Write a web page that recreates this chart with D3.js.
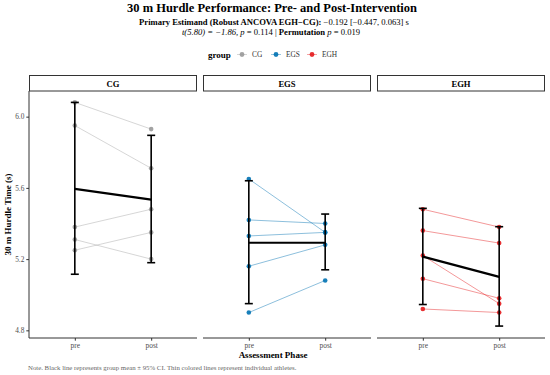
<!DOCTYPE html>
<html>
<head>
<meta charset="utf-8">
<script src="https://cdn.jsdelivr.net/npm/d3@7"></script>
<style>
  body { margin: 0; background: #fff; }
  text { font-family: 'Liberation Serif', 'DejaVu Serif', serif; }
</style>
</head>
<body>
<svg id="chart"></svg>
<script>
let d3 = window.d3

// data
let groups = ['CG', 'EGS', 'EGH']
let phases = ['pre', 'post']
let cgPre = [6.08, 5.95, 5.38, 5.31, 5.25]
let cgPost = [5.93, 5.71, 5.48, 5.20, 5.35]
let egsPre = [5.65, 5.42, 5.33, 5.16, 4.90]
let egsPost = [5.35, 5.40, 5.35, 5.28, 5.08]
let eghPre = [5.48, 5.36, 5.22, 5.09, 4.92]
let eghPost = [5.38, 5.29, 4.95, 4.98, 4.90]
// 95% CI bounds [pre, post]
let ciLow = { CG: [5.115, 5.18], EGS: [4.95, 5.14], EGH: [4.945, 4.824] }
let ciHigh = { CG: [6.08, 5.895], EGS: [5.64, 5.453], EGH: [5.485, 5.382] }
let yTicks = [4.8, 5.2, 5.6, 6.0]
let colors = { CG: '#999999', EGS: '#0072B2', EGH: '#E41A1C' }

let series = {
  CG: [cgPre, cgPost],
  EGS: [egsPre, egsPost],
  EGH: [eghPre, eghPost]
}

let width = 550
let height = 375
let panel = { top: 91, bottom: 338, width: 168, gap: 6, left: 29 }

let svg = d3.select('#chart')
  .attr('width', width)
  .attr('height', height)

let y = d3.scaleLinear()
  .domain([4.757, 6.144])
  .range([panel.bottom, panel.top])

let x = d3.scalePoint()
  .domain(phases)
  .range([0, panel.width])
  .padding(0.6)

// titles
svg.append('text')
  .attr('x', 272).attr('y', 11.5)
  .attr('text-anchor', 'middle')
  .style('font-size', '12.5px').style('font-weight', 'bold')
  .text('30 m Hurdle Performance: Pre- and Post-Intervention')

let sub1 = svg.append('text')
  .attr('x', 274).attr('y', 24.5)
  .attr('text-anchor', 'middle')
  .style('font-size', '8.6px')
sub1.append('tspan').style('font-weight', 'bold').text('Primary Estimand (Robust ANCOVA EGH\u2212CG):')
sub1.append('tspan').text(' \u22120.192 [\u22120.447, 0.063] s')

let sub2 = svg.append('text')
  .attr('x', 271).attr('y', 34.5)
  .attr('text-anchor', 'middle')
  .style('font-size', '8.6px')
sub2.append('tspan').style('font-style', 'italic').text('t(5.80) = \u22121.86, ')
sub2.append('tspan').style('font-style', 'italic').text('p')
sub2.append('tspan').text(' = 0.114 | ')
sub2.append('tspan').style('font-weight', 'bold').text('Permutation')
sub2.append('tspan').text('  ')
sub2.append('tspan').style('font-style', 'italic').text('p')
sub2.append('tspan').text(' = 0.019')

// legend
let legend = svg.append('g').attr('transform', 'translate(0,54.5)')
legend.append('text')
  .attr('x', 208).attr('y', 3)
  .style('font-size', '9px').style('font-weight', 'bold')
  .text('group')
let legendX = [242, 276, 312]
groups.forEach(function (g, i) {
  let item = legend.append('g').attr('transform', 'translate(' + legendX[i] + ',0)')
  item.append('line')
    .attr('x1', -5).attr('x2', 5)
    .attr('stroke', colors[g]).attr('stroke-opacity', 0.5).attr('stroke-width', 0.8)
  item.append('circle')
    .attr('r', 2.4).attr('fill', colors[g]).attr('fill-opacity', 0.9)
  item.append('text')
    .attr('x', 10).attr('y', 2.6)
    .style('font-size', '7.4px').attr('fill', '#333')
    .text(g)
})

// y axis (first panel only)
let yAxis = d3.axisLeft(y).tickValues(yTicks).tickFormat(d3.format('.1f')).tickSize(2.7).tickPadding(2)
let yg = svg.append('g')
  .attr('transform', 'translate(' + panel.left + ',0)')
  .call(yAxis)
yg.select('.domain').attr('d', 'M0,' + panel.top + 'V' + panel.bottom).attr('stroke', '#333').attr('stroke-width', 1)
yg.selectAll('.tick line').attr('stroke', '#333')
yg.selectAll('.tick text').attr('fill', '#4d4d4d').style('font-size', '7.3px').style('font-family', "'Liberation Serif', serif")

svg.append('text')
  .attr('transform', 'translate(11,' + ((panel.top + panel.bottom) / 2) + ') rotate(-90)')
  .attr('text-anchor', 'middle')
  .style('font-size', '9px').style('font-weight', 'bold')
  .text('30 m Hurdle Time (s)')

groups.forEach(function (g, gi) {
  let x0 = panel.left + gi * (panel.width + panel.gap)
  let p = svg.append('g').attr('transform', 'translate(' + x0 + ',0)')
  let pre = series[g][0]
  let post = series[g][1]

  // strip
  p.append('rect')
    .attr('x', 0.5).attr('y', 75.5)
    .attr('width', panel.width - 1).attr('height', 15.5)
    .attr('fill', '#fff').attr('stroke', '#333').attr('stroke-width', 1)
  p.append('text')
    .attr('x', panel.width / 2).attr('y', 86.5)
    .attr('text-anchor', 'middle')
    .style('font-size', '8.6px').style('font-weight', 'bold')
    .text(g)

  // x axis
  let xAxis = d3.axisBottom(x).tickSize(2.7).tickPadding(2)
  let xg = p.append('g')
    .attr('transform', 'translate(0,' + panel.bottom + ')')
    .call(xAxis)
  xg.select('.domain').attr('d', 'M0,0H' + panel.width).attr('stroke', '#333').attr('stroke-width', 1)
  xg.selectAll('.tick line').attr('stroke', '#333')
  xg.selectAll('.tick text').attr('fill', '#4d4d4d').style('font-size', '7.4px').style('font-family', "'Liberation Serif', serif")

  // individual athletes
  pre.forEach(function (v, i) {
    p.append('line')
      .attr('x1', x('pre')).attr('y1', y(v))
      .attr('x2', x('post')).attr('y2', y(post[i]))
      .attr('stroke', colors[g]).attr('stroke-opacity', g === 'CG' ? 0.45 : 0.5)
      .attr('stroke-width', 0.9)
  })
  phases.forEach(function (ph, k) {
    p.selectAll('circle.pt-' + ph)
      .data(series[g][k])
      .enter().append('circle')
      .attr('cx', x(ph)).attr('cy', function (d) { return y(d) })
      .attr('r', 2.3)
      .attr('fill', colors[g]).attr('fill-opacity', 0.9)
  })

  // mean and CI
  let means = [d3.mean(pre), d3.mean(post)]
  phases.forEach(function (ph, k) {
    let cx = x(ph)
    p.append('line')
      .attr('x1', cx).attr('x2', cx)
      .attr('y1', y(ciLow[g][k])).attr('y2', y(ciHigh[g][k]))
      .attr('stroke', '#000').attr('stroke-width', 1.6)
    ;[ciLow[g][k], ciHigh[g][k]].forEach(function (v) {
      p.append('line')
        .attr('x1', cx - 4).attr('x2', cx + 4)
        .attr('y1', y(v)).attr('y2', y(v))
        .attr('stroke', '#000').attr('stroke-width', 1.6)
    })
  })
  p.append('line')
    .attr('x1', x('pre')).attr('y1', y(means[0]))
    .attr('x2', x('post')).attr('y2', y(means[1]))
    .attr('stroke', '#000').attr('stroke-width', 2.2)
})

svg.append('text')
  .attr('x', 273).attr('y', 358)
  .attr('text-anchor', 'middle')
  .style('font-size', '9px').style('font-weight', 'bold')
  .text('Assessment Phase')

svg.append('text')
  .attr('x', 28).attr('y', 370)
  .attr('fill', '#666')
  .style('font-size', '6.8px')
  .text('Note. Black line represents group mean \u00b1 95% CI. Thin colored lines represent individual athletes.')
</script>
</body>
</html>
